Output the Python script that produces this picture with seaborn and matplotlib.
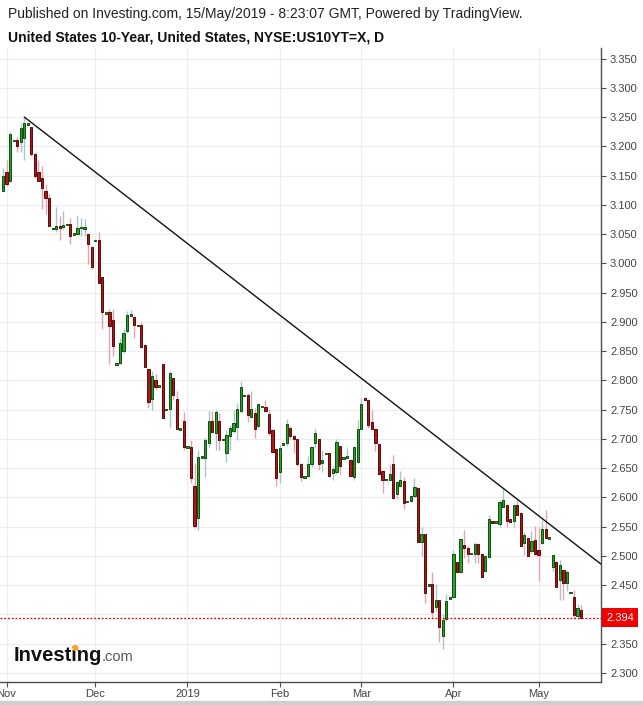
import matplotlib

matplotlib.use("Agg")

import matplotlib.pyplot as plt
import matplotlib.transforms as mtransforms
from matplotlib.patches import Circle, Rectangle
import numpy as np
import pandas as pd
import seaborn as sns

# daily bars (Sun-Fri feed), 31 Oct 2018 .. 15 May 2019
closed_days = ["2018-11-22", "2019-01-01", "2019-02-18", "2019-04-19", "2019-04-21"]
month_labels = ["Nov", "Dec", "2019", "Feb", "Mar", "Apr", "May"]

opens = [
    3.124, 3.156, 3.140, 3.210, 3.210, 3.208, 3.214, 3.236, 3.233, 3.186,
    3.156, 3.146, 3.123, 3.111, 3.059, 3.059, 3.064, 3.064, 3.066, 3.067,
    3.050, 3.050, 3.061, 3.058, 3.050, 3.027, 3.039, 3.039, 2.976, 2.913,
    2.916, 2.903, 2.828, 2.830, 2.850, 2.884, 2.910, 2.909, 2.894, 2.895,
    2.860, 2.820, 2.768, 2.800, 2.790, 2.827, 2.750, 2.751, 2.804, 2.768,
    2.717, 2.731, 2.686, 2.686, 2.619, 2.564, 2.669, 2.667, 2.693, 2.730,
    2.710, 2.730, 2.699, 2.675, 2.704, 2.713, 2.720, 2.747, 2.774, 2.774,
    2.738, 2.744, 2.721, 2.755, 2.755, 2.742, 2.715, 2.683, 2.644, 2.691,
    2.693, 2.719, 2.705, 2.699, 2.657, 2.635, 2.637, 2.656, 2.693, 2.699,
    2.659, 2.675, 2.676, 2.641, 2.644, 2.687, 2.667, 2.669, 2.664, 2.635,
    2.660, 2.717, 2.770, 2.767, 2.729, 2.717, 2.691, 2.645, 2.630, 2.630,
    2.656, 2.606, 2.620, 2.628, 2.593, 2.593, 2.602, 2.616, 2.523, 2.537,
    2.450, 2.452, 2.413, 2.424, 2.363, 2.392, 2.428, 2.430, 2.489, 2.472,
    2.518, 2.513, 2.504, 2.503, 2.520, 2.503, 2.474, 2.498, 2.559, 2.558,
    2.555, 2.584, 2.587, 2.562, 2.560, 2.587, 2.573, 2.522, 2.530, 2.508,
    2.527, 2.510, 2.522, 2.545, 2.530, 2.481, 2.490, 2.458, 2.475, 2.454,
    2.437, 2.429, 2.397, 2.407,
]
highs = [
    3.163, 3.176, 3.225, 3.210, 3.216, 3.239, 3.250, 3.242, 3.233, 3.190,
    3.177, 3.167, 3.136, 3.119, 3.059, 3.097, 3.081, 3.089, 3.066, 3.077,
    3.050, 3.080, 3.077, 3.076, 3.050, 3.027, 3.039, 3.053, 2.976, 2.918,
    2.921, 2.921, 2.828, 2.873, 2.890, 2.918, 2.920, 2.910, 2.894, 2.899,
    2.862, 2.820, 2.816, 2.811, 2.790, 2.827, 2.750, 2.816, 2.804, 2.781,
    2.717, 2.745, 2.686, 2.698, 2.658, 2.680, 2.669, 2.701, 2.747, 2.747,
    2.750, 2.744, 2.699, 2.715, 2.724, 2.750, 2.761, 2.798, 2.774, 2.779,
    2.781, 2.753, 2.761, 2.755, 2.767, 2.751, 2.716, 2.684, 2.690, 2.691,
    2.734, 2.722, 2.706, 2.700, 2.658, 2.635, 2.671, 2.686, 2.716, 2.700,
    2.681, 2.675, 2.677, 2.654, 2.700, 2.688, 2.667, 2.684, 2.665, 2.688,
    2.732, 2.770, 2.771, 2.768, 2.749, 2.718, 2.692, 2.646, 2.630, 2.657,
    2.673, 2.627, 2.645, 2.635, 2.593, 2.604, 2.633, 2.618, 2.549, 2.538,
    2.450, 2.472, 2.452, 2.425, 2.400, 2.435, 2.428, 2.509, 2.490, 2.529,
    2.544, 2.516, 2.504, 2.524, 2.521, 2.504, 2.502, 2.570, 2.559, 2.558,
    2.595, 2.615, 2.588, 2.563, 2.588, 2.596, 2.574, 2.541, 2.531, 2.543,
    2.551, 2.550, 2.561, 2.578, 2.530, 2.502, 2.491, 2.492, 2.476, 2.475,
    2.437, 2.441, 2.418, 2.415,
]
lows = [
    3.124, 3.132, 3.139, 3.210, 3.190, 3.190, 3.177, 3.236, 3.183, 3.146,
    3.140, 3.093, 3.084, 3.064, 3.059, 3.054, 3.039, 3.058, 3.066, 3.033,
    3.050, 3.050, 3.047, 3.047, 2.999, 2.990, 3.039, 2.967, 2.887, 2.911,
    2.828, 2.842, 2.828, 2.827, 2.846, 2.881, 2.909, 2.873, 2.894, 2.855,
    2.822, 2.753, 2.750, 2.785, 2.790, 2.736, 2.750, 2.720, 2.767, 2.716,
    2.717, 2.680, 2.686, 2.624, 2.547, 2.544, 2.669, 2.634, 2.686, 2.710,
    2.681, 2.681, 2.699, 2.661, 2.681, 2.709, 2.698, 2.744, 2.774, 2.728,
    2.735, 2.701, 2.718, 2.755, 2.745, 2.707, 2.678, 2.620, 2.624, 2.691,
    2.687, 2.700, 2.676, 2.654, 2.627, 2.635, 2.635, 2.652, 2.684, 2.647,
    2.644, 2.675, 2.635, 2.629, 2.640, 2.640, 2.667, 2.665, 2.636, 2.630,
    2.659, 2.716, 2.765, 2.719, 2.716, 2.679, 2.638, 2.607, 2.630, 2.629,
    2.597, 2.597, 2.618, 2.580, 2.593, 2.592, 2.600, 2.523, 2.500, 2.419,
    2.450, 2.393, 2.406, 2.352, 2.340, 2.390, 2.428, 2.428, 2.471, 2.470,
    2.496, 2.487, 2.504, 2.488, 2.487, 2.464, 2.472, 2.497, 2.556, 2.558,
    2.550, 2.583, 2.550, 2.557, 2.550, 2.569, 2.517, 2.501, 2.500, 2.504,
    2.502, 2.456, 2.520, 2.528, 2.530, 2.474, 2.447, 2.425, 2.425, 2.440,
    2.437, 2.394, 2.396, 2.393,
]
closes = [
    3.149, 3.135, 3.221, 3.210, 3.201, 3.231, 3.239, 3.240, 3.186, 3.150,
    3.141, 3.128, 3.111, 3.064, 3.059, 3.063, 3.061, 3.065, 3.066, 3.046,
    3.050, 3.060, 3.061, 3.062, 3.033, 2.993, 3.039, 2.967, 2.916, 2.917,
    2.892, 2.859, 2.828, 2.864, 2.880, 2.912, 2.914, 2.895, 2.894, 2.857,
    2.823, 2.763, 2.807, 2.789, 2.790, 2.736, 2.750, 2.812, 2.774, 2.717,
    2.717, 2.686, 2.686, 2.633, 2.551, 2.669, 2.669, 2.698, 2.730, 2.711,
    2.745, 2.698, 2.699, 2.706, 2.718, 2.727, 2.751, 2.789, 2.774, 2.740,
    2.751, 2.717, 2.759, 2.755, 2.747, 2.710, 2.678, 2.633, 2.684, 2.691,
    2.726, 2.704, 2.699, 2.656, 2.635, 2.635, 2.656, 2.686, 2.710, 2.656,
    2.664, 2.675, 2.636, 2.648, 2.695, 2.654, 2.667, 2.669, 2.637, 2.686,
    2.716, 2.760, 2.766, 2.724, 2.717, 2.692, 2.640, 2.630, 2.630, 2.640,
    2.599, 2.626, 2.630, 2.590, 2.593, 2.603, 2.617, 2.523, 2.537, 2.436,
    2.450, 2.403, 2.424, 2.379, 2.390, 2.422, 2.428, 2.503, 2.472, 2.528,
    2.513, 2.503, 2.504, 2.520, 2.503, 2.464, 2.500, 2.562, 2.556, 2.558,
    2.592, 2.595, 2.560, 2.558, 2.587, 2.570, 2.517, 2.535, 2.500, 2.526,
    2.503, 2.501, 2.545, 2.530, 2.530, 2.501, 2.447, 2.484, 2.453, 2.473,
    2.437, 2.399, 2.410, 2.394,
]

# price scale labels (2.400 sits under the last-price tag)
price_ticks = [3.35, 3.30, 3.25, 3.20, 3.15, 3.10, 3.05, 3.00, 2.95, 2.90, 2.85,
               2.80, 2.75, 2.70, 2.65, 2.60, 2.55, 2.50, 2.45, 2.40, 2.35, 2.30]

# analyst trendline anchors (date, level)
trend_dates = ["2018-11-07", "2019-05-15"]
trend_levels = [3.250, 2.512]

UP_FILL, UP_EDGE, UP_WICK = "#2aa12a", "#0e4f0e", "#a9c3c8"
DN_FILL, DN_EDGE, DN_WICK = "#ab1818", "#5e0808", "#e6a3ac"
AXIS_COLOR = "#4d4d4d"
GRID_COLOR = "#ececec"

days = pd.date_range("2018-10-31", "2019-05-15", freq="D")
dates = days[(days.dayofweek != 5) & ~days.isin(pd.to_datetime(closed_days))]

df = pd.DataFrame(
    {"date": dates, "open": opens, "high": highs, "low": lows, "close": closes}
)
df["pos"] = np.arange(len(df))
df["up"] = df["close"] >= df["open"]

sns.set_theme(style="white")
plt.rcParams["font.family"] = ["Liberation Sans", "DejaVu Sans"]

fig = plt.figure(figsize=(6.43, 7.05), dpi=100)
W, H = 643, 705
ax = fig.add_axes([0, 1 - 681.7 / H, 601 / W, (681.7 - 48) / H])

x_left, x_right = -0.846, 168.6
ax.set_xlim(x_left, x_right)
ax.set_ylim(2.2847, 3.368)

last = df["close"].iloc[-1]

# month gridlines / ticks at the first bar of each month
month_key = df["date"].dt.to_period("M")
month_pos = df.loc[month_key != month_key.shift(), "pos"].tolist()[1:]
ax.set_xticks(month_pos)
ax.set_xticklabels(month_labels)
ax.set_yticks(price_ticks)
ax.set_yticklabels(["" if abs(p - last) < 0.03 else f"{p:.3f}" for p in price_ticks])
ax.yaxis.tick_right()
ax.grid(True, color=GRID_COLOR, linewidth=0.8)
ax.set_axisbelow(True)

for side in ["top", "left"]:
    ax.spines[side].set_visible(False)
for side in ["right", "bottom"]:
    ax.spines[side].set_color(AXIS_COLOR)
    ax.spines[side].set_linewidth(1.0)
ax.tick_params(
    axis="both", direction="out", length=3.5, width=0.8, color=AXIS_COLOR,
    labelsize=8, labelcolor="#444444", pad=3,
)
ax.tick_params(axis="y", right=True, left=False)
ax.tick_params(axis="x", bottom=True, pad=1.5)

# candles
body_lo = np.minimum(df["open"], df["close"])
body_h = (df["close"] - df["open"]).abs()
flat = body_h < 0.0025
body_lo = np.where(flat, body_lo - 0.00125, body_lo)
body_h = np.where(flat, 0.0025, body_h)

ax.vlines(
    df["pos"], df["low"], df["high"],
    colors=np.where(df["up"], UP_WICK, DN_WICK), linewidth=1.0, zorder=2,
)
ax.bar(
    df["pos"], body_h, bottom=body_lo, width=0.62,
    color=np.where(df["up"], UP_FILL, DN_FILL),
    edgecolor=np.where(df["up"], UP_EDGE, DN_EDGE),
    linewidth=0.7, zorder=3,
)

# trendline, extended to the right edge
t0 = dates.get_loc(pd.Timestamp(trend_dates[0]))
t1 = dates.get_loc(pd.Timestamp(trend_dates[1]))
slope = (trend_levels[1] - trend_levels[0]) / (t1 - t0)
ax.plot(
    [t0, x_right], [trend_levels[0], trend_levels[0] + slope * (x_right - t0)],
    color="#111111", linewidth=1.0, zorder=4,
)

# last price line and tag
ax.axhline(last, color="#cc0000", linewidth=0.9, linestyle=(0, (1.5, 1.5)), zorder=4)
blend = mtransforms.blended_transform_factory(ax.transAxes, ax.transData)
ax.text(
    1.0 + 5 / 601, last, f"{last:.3f}", transform=blend, ha="left", va="center",
    fontsize=8, color="white", clip_on=False, zorder=6,
    bbox=dict(facecolor="#f00000", edgecolor="none", boxstyle="square,pad=0.4"),
)

# header
fig.text(8 / W, 1 - 14 / H,
         "Published on Investing.com, 15/May/2019 - 8:23:07 GMT, Powered by TradingView.",
         fontsize=10, color="#222222", va="center")
fig.text(8 / W, 1 - 37 / H,
         "United States 10-Year, United States, NYSE:US10YT=X, D",
         fontsize=10, fontweight="bold", color="#111111", va="center")

# watermark logo
fig.text(14 / W, 1 - 661 / H, "Investing", fontsize=14.5, fontweight="bold",
         color="#111111", va="baseline")
fig.text(102 / W, 1 - 661 / H, ".com", fontsize=10.5, color="#555555", va="baseline")
fig.add_artist(Circle((75.5 / W, 1 - 648 / H), 2.3 / W, transform=fig.transFigure,
                      color="#f5a623", zorder=10))

fig.add_artist(Rectangle((0, 0), 1, 4 / H, transform=fig.transFigure,
                         color="#cfcfcf", zorder=10))

fig.savefig("out.png", dpi=100)
